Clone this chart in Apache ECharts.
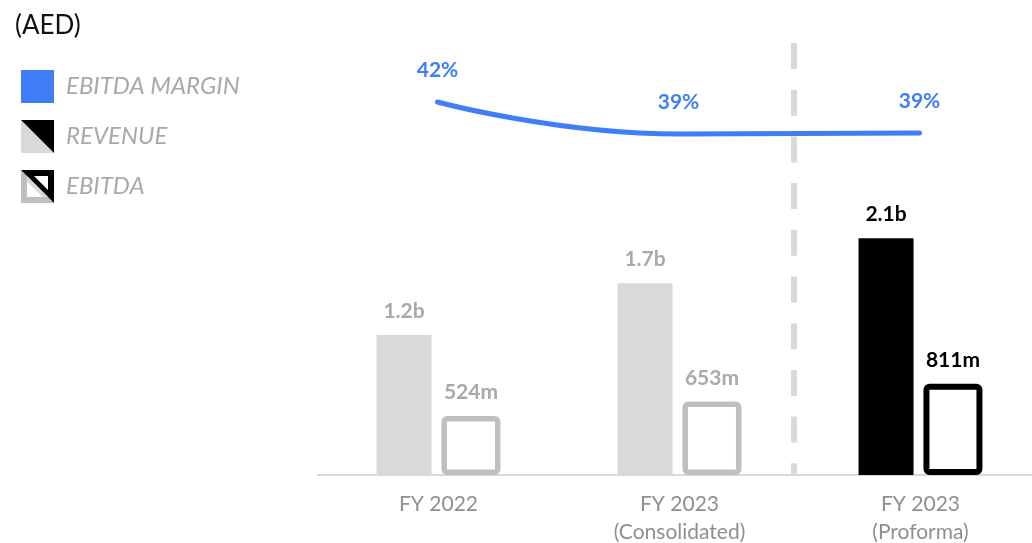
<!DOCTYPE html>
<html>
<head>
<meta charset="utf-8">
<script src="https://cdn.jsdelivr.net/npm/echarts@6/dist/echarts.min.js"></script>
<style>
  html, body { margin: 0; padding: 0; background: #fff; }
  #chart { width: 1032px; height: 543px; }
</style>
</head>
<body>
<div id="chart"></div>
<script>
// ---- data ----
const categories = ['FY 2022', 'FY 2023\n(Consolidated)', 'FY 2023\n(Proforma)'];
const revenue = [1245, 1705, 2105];            // AED m
const revenueLabels = ['1.2b', '1.7b', '2.1b'];
const ebitda = [524, 653, 811];                 // AED m
const ebitdaLabels = ['524m', '653m', '811m'];
const margin = [42, 39, 39.1];                  // %
const marginLabels = ['42%', '39%', '39%'];
const seriesNames = ['EBITDA MARGIN', 'REVENUE', 'EBITDA'];
const dividerAt = 2;                            // boundary before the proforma column

// ---- styles ----
const BLUE = '#3F7EF6';
const LIGHT = '#d9d9d9';
const MID = '#bfbfbf';
const LABEL_GREY = '#a9a9a9';
const FONT = 'Lato, "Open Sans", sans-serif';
const last = categories.length - 1;
const Y_MAX = 3840;

function svgIcon(svg) {
  return 'image://data:image/svg+xml;charset=utf-8,' + encodeURIComponent(svg);
}
const revenueIcon = svgIcon(
  '<svg xmlns="http://www.w3.org/2000/svg" width="33" height="33" viewBox="0 0 33 33">' +
  '<polygon points="0,0 33,33 0,33" fill="#d9d9d9"/>' +
  '<polygon points="0,0 33,0 33,33" fill="#000"/></svg>');
const ebitdaIcon = svgIcon(
  '<svg xmlns="http://www.w3.org/2000/svg" width="33" height="33" viewBox="0 0 33 33">' +
  '<polygon points="0,0 33,33 0,33" fill="#bfbfbf"/>' +
  '<polygon points="0,0 33,0 33,33" fill="#000"/>' +
  '<polygon points="13,6 27,6 27,20" fill="#fff"/>' +
  '<polygon points="6,11 6,27 22,27" fill="#fff"/>' +
  '<polygon points="6,6 6,11 22,27 27,27 " fill="#d9d9d9"/></svg>');

const chart = echarts.init(document.getElementById('chart'), null, { renderer: 'canvas' });

const gridBase = { containLabel: false, outerBoundsMode: 'none' };

const option = {
  backgroundColor: '#fff',
  animation: false,
  title: {
    text: '(AED)',
    left: 10, top: 8,
    textStyle: { fontFamily: FONT, fontSize: 26, fontWeight: 'normal', color: '#111' }
  },
  legend: {
    orient: 'vertical',
    left: 16, top: 65,
    itemWidth: 33, itemHeight: 33, itemGap: 17,
    selectedMode: false,
    data: [
      { name: seriesNames[0], icon: 'rect' },
      { name: seriesNames[1], icon: revenueIcon },
      { name: seriesNames[2], icon: ebitdaIcon }
    ],
    textStyle: {
      fontFamily: FONT, fontSize: 24, fontStyle: 'italic',
      color: LABEL_GREY, padding: [0, 0, 0, 7]
    }
  },
  grid: [
    Object.assign({ left: 318, width: 723, top: 43, bottom: 68 }, gridBase),
    Object.assign({ left: 317, width: 723, top: 70, height: 96 }, gridBase),
    Object.assign({ left: 312, width: 723, top: 43, bottom: 68 }, gridBase)
  ],
  xAxis: [
    {
      type: 'category', gridIndex: 0, data: categories,
      axisLine: { lineStyle: { color: LIGHT, width: 2 } },
      axisTick: { show: false },
      axisLabel: {
        fontFamily: FONT, fontSize: 21, color: '#8f8f8f',
        lineHeight: 28, margin: 15
      },
      splitLine: { show: false }
    },
    { type: 'category', gridIndex: 1, data: categories, show: false },
    { type: 'value', gridIndex: 2, min: 0, max: categories.length, show: false }
  ],
  yAxis: [
    { type: 'value', gridIndex: 0, min: 0, max: Y_MAX, show: false, splitLine: { show: false } },
    { type: 'value', gridIndex: 1, min: 36, max: 45, show: false, splitLine: { show: false } },
    { type: 'value', gridIndex: 2, min: 0, max: Y_MAX, show: false, splitLine: { show: false } }
  ],
  series: [
    {
      type: 'line',
      xAxisIndex: 2, yAxisIndex: 2,
      data: [],
      silent: true,
      markLine: {
        silent: true,
        symbol: 'none',
        label: { show: false },
        lineStyle: { color: LIGHT, width: 6, type: [26, 20.7], opacity: 1 },
        emphasis: { disabled: true },
        data: [[{ coord: [dividerAt, Y_MAX] }, { coord: [dividerAt, 0] }]]
      },
      z: 1
    },
    {
      name: seriesNames[1],
      type: 'bar',
      xAxisIndex: 0, yAxisIndex: 0,
      barWidth: 55,
      barGap: '18%',
      data: revenue.map((v, i) => ({
        value: v,
        itemStyle: { color: i === last ? '#000' : LIGHT },
        label: { color: i === last ? '#000' : LABEL_GREY }
      })),
      label: {
        show: true, position: 'top', distance: 13,
        fontFamily: FONT, fontSize: 21, fontWeight: 'bold',
        formatter: p => revenueLabels[p.dataIndex]
      },
      z: 3
    },
    {
      name: seriesNames[2],
      type: 'bar',
      xAxisIndex: 0, yAxisIndex: 0,
      barWidth: 59,
      data: ebitda.map((v, i) => ({
        value: v,
        itemStyle: {
          color: '#fff',
          borderColor: i === last ? '#000' : MID,
          borderWidth: i === last ? 6 : 5.5,
          borderRadius: 3
        },
        label: { color: i === last ? '#000' : LABEL_GREY }
      })),
      label: {
        show: true, position: 'top', distance: 13,
        fontFamily: FONT, fontSize: 21, fontWeight: 'bold',
        formatter: p => ebitdaLabels[p.dataIndex]
      },
      z: 3
    },
    {
      name: seriesNames[0],
      type: 'line',
      xAxisIndex: 1, yAxisIndex: 1,
      data: margin,
      smooth: true,
      showSymbol: true,
      symbol: 'circle',
      symbolSize: 4,
      itemStyle: { color: BLUE },
      color: BLUE,
      lineStyle: { color: BLUE, width: 5, cap: 'round' },
      label: {
        show: true, position: 'top', distance: 19,
        color: BLUE, fontFamily: FONT, fontSize: 21, fontWeight: 'bold',
        formatter: p => marginLabels[p.dataIndex]
      },
      z: 5
    }
  ]
};
chart.setOption(option);
</script>
</body>
</html>
